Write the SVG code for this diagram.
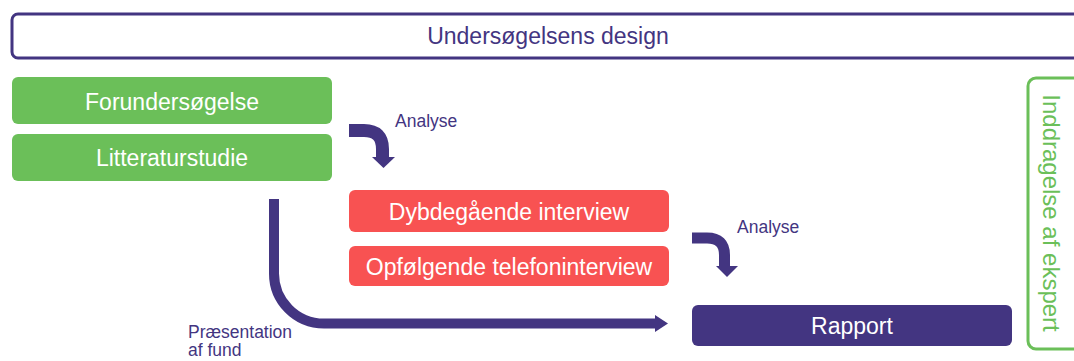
<svg xmlns="http://www.w3.org/2000/svg" width="1074" height="361" viewBox="0 0 1074 361">
<style>
.t{font-family:"Liberation Sans",Arial,sans-serif}
.w{fill:#fff;font-size:23px;text-anchor:middle}
.p{fill:#433581}
.g{fill:#6bbf59}
.r{fill:#f85252}
.lbl{fill:#433581;font-size:17.5px}
.con{fill:none;stroke:#433581}
</style>
<rect width="1074" height="361" fill="#fff"/>
<g id="design">
<rect x="12" y="14" width="1080" height="44" rx="6" fill="#fff" stroke="#433581" stroke-width="3"/>
<text class="t" x="548" y="44" font-size="23" fill="#433581" text-anchor="middle">Undersøgelsens design</text>
</g>
<g id="forundersoegelse">
<rect class="g" x="12" y="77" width="320" height="47" rx="6"/>
<text class="t w" x="172" y="110">Forundersøgelse</text>
</g>
<g id="litteraturstudie">
<rect class="g" x="12" y="134" width="320" height="47" rx="6"/>
<text class="t w" x="172" y="166">Litteraturstudie</text>
</g>
<g id="dybdegaaende">
<rect class="r" x="349" y="190" width="320" height="42" rx="6"/>
<text class="t w" x="509" y="220">Dybdegående interview</text>
</g>
<g id="opfoelgende">
<rect class="r" x="349" y="246" width="320" height="40" rx="6"/>
<text class="t w" x="509" y="275">Opfølgende telefoninterview</text>
</g>
<g id="rapport">
<rect class="p" x="692" y="305" width="320" height="41" rx="6"/>
<text class="t w" x="852" y="334">Rapport</text>
</g>
<g id="ekspert">
<rect x="1028" y="78" width="60" height="271" rx="8" fill="#fff" stroke="#6bbf59" stroke-width="3"/>
<text class="t" transform="translate(1043,213) rotate(90)" font-size="24" fill="#6bbf59" text-anchor="middle">Inddragelse af ekspert</text>
</g>
<g id="connectors">
<path class="con" stroke-width="13" d="M349,130.5 H364 Q382.5,130.5 382.5,149 V158"/>
<polygon class="p" points="372,157 395,157 383.5,168"/>
<text class="t lbl" x="395" y="127">Analyse</text>
<path class="con" stroke-width="11" d="M692,238 H707 Q724.5,238 724.5,255 V267"/>
<polygon class="p" points="716,266 738,266 727,277"/>
<text class="t lbl" x="737" y="233">Analyse</text>
<path class="con" stroke-width="10" d="M274,199 V273 A50,50 0 0 0 324,323.5 H656"/>
<polygon class="p" points="655,315 668,323.5 655,332"/>
<text class="t lbl" x="188" y="338" font-size="17">Præsentation</text>
<text class="t lbl" x="188" y="356" font-size="17">af fund</text>
</g>
</svg>
